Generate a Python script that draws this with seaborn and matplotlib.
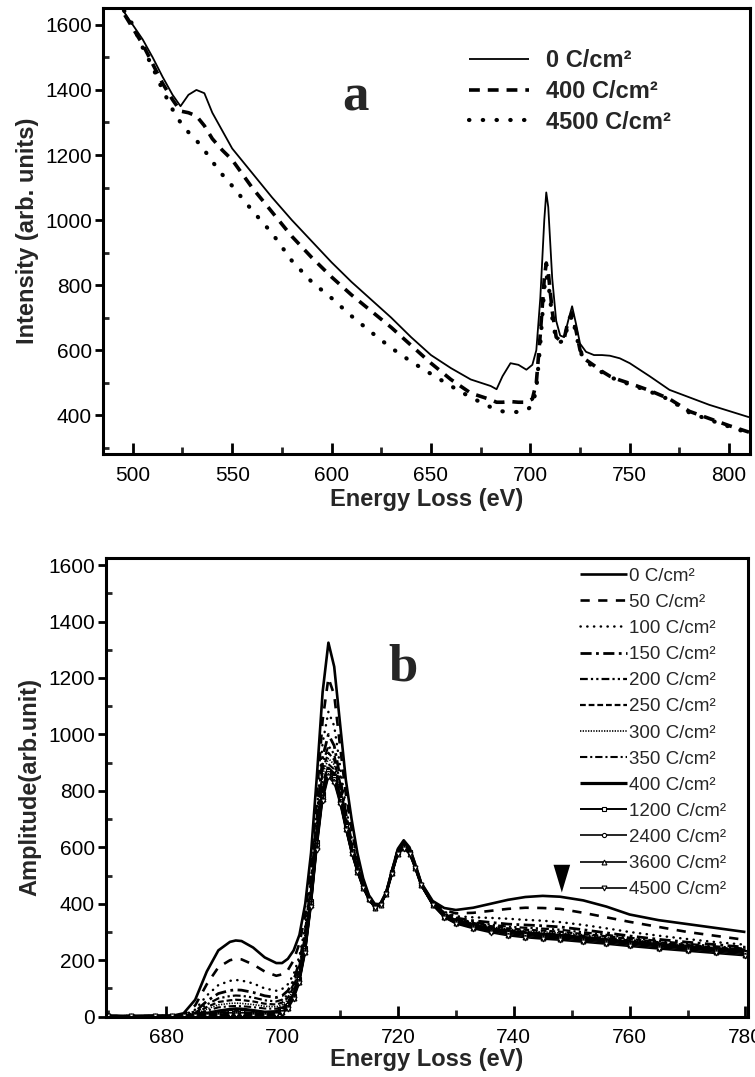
import matplotlib
matplotlib.use("Agg")
import matplotlib.pyplot as plt
from matplotlib.ticker import MultipleLocator
import seaborn as sns

# ---------------- panel (a): raw spectra ----------------
energy_a = [490, 495, 500, 505, 510, 515, 520, 524, 528, 532, 536, 540, 545, 550,
            560, 570, 580, 590, 600, 610, 620, 630, 640, 650, 660, 670, 680, 683,
            686, 690, 694, 698, 701, 703, 705, 707, 708, 709, 711, 713, 715, 717,
            719, 721, 723, 725, 728, 732, 736, 740, 745, 750, 760, 770, 780, 790,
            800, 810]
dose_0 = [1700, 1645, 1600, 1555, 1500, 1440, 1385, 1350, 1385, 1400, 1390, 1330,
          1275, 1220, 1145, 1070, 1000, 935, 870, 810, 755, 700, 640, 585, 545,
          510, 490, 480, 520, 560, 555, 540, 555, 600, 760, 1000, 1085, 1040, 820,
          690, 645, 640, 690, 735, 680, 620, 595, 585, 585, 583, 575, 560, 520,
          478, 455, 432, 413, 394]
dose_400 = [1690, 1640, 1590, 1540, 1480, 1420, 1370, 1335, 1330, 1320, 1290, 1250,
            1215, 1185, 1100, 1025, 950, 885, 825, 770, 720, 670, 615, 560, 510,
            468, 448, 440, 440, 442, 440, 440, 450, 500, 650, 820, 868, 840, 720,
            640, 630, 635, 690, 715, 660, 600, 570, 553, 535, 520, 508, 498, 476,
            450, 412, 390, 368, 348]
dose_4500 = [1700, 1650, 1600, 1530, 1470, 1400, 1340, 1300, 1270, 1245, 1215, 1180,
             1140, 1105, 1030, 960, 875, 810, 760, 705, 655, 607, 565, 527, 490,
             455, 425, 418, 412, 410, 410, 415, 430, 480, 620, 790, 830, 810, 700,
             630, 625, 630, 680, 705, 650, 595, 565, 548, 532, 518, 505, 495, 473,
             448, 408, 386, 365, 345]
labels_a = ["0 C/cm²", "400 C/cm²", "4500 C/cm²"]

# ---------------- panel (b): background-subtracted edges ----------------
energy_b = [670, 674, 678, 681, 683, 685, 687, 689, 691, 692, 693, 695, 697, 699,
            700, 701, 702, 703, 704, 705, 706, 707, 708, 709, 710, 711, 712, 713,
            714, 715, 716, 717, 718, 719, 720, 721, 722, 723, 724, 726, 728, 730,
            733, 736, 739, 742, 745, 748, 752, 756, 760, 765, 770, 775, 780]
amp_0 = [3, 2, 4, 3, 12, 60, 160, 235, 265, 270, 268, 245, 210, 190, 190, 205, 235,
         290, 400, 580, 850, 1150, 1325, 1240, 1040, 840, 700, 580, 490, 430, 400,
         398, 440, 520, 595, 625, 600, 540, 475, 410, 385, 378, 386, 400, 414, 424,
         428, 425, 412, 390, 362, 342, 328, 314, 300]
amp_50 = [2, 3, 2, 3, 8, 40, 115, 175, 200, 205, 203, 185, 160, 145, 150, 165, 200,
          260, 360, 530, 780, 1050, 1200, 1140, 960, 790, 665, 560, 480, 425, 396,
          398, 440, 518, 592, 620, 597, 538, 473, 407, 378, 366, 368, 375, 382, 386,
          385, 382, 368, 352, 336, 318, 300, 286, 272]
amp_100 = [2, 1, 3, 2, 5, 25, 75, 112, 127, 130, 128, 118, 100, 92, 98, 115, 150,
           215, 320, 490, 730, 970, 1080, 1030, 890, 745, 635, 545, 472, 420, 394,
           397, 440, 517, 590, 617, 594, 535, 471, 404, 372, 356, 352, 350, 347, 343,
           340, 335, 325, 313, 300, 287, 275, 264, 255]
amp_150 = [1, 2, 1, 2, 4, 18, 55, 82, 93, 95, 94, 86, 74, 68, 74, 92, 128, 195, 300,
           470, 700, 920, 1000, 960, 850, 720, 620, 535, 467, 416, 392, 397, 440, 516,
           588, 614, 592, 533, 469, 402, 368, 350, 340, 334, 328, 325, 322, 318, 308,
           297, 286, 274, 264, 255, 246]
amp_200 = [2, 1, 2, 1, 3, 14, 43, 65, 73, 75, 74, 68, 58, 54, 60, 78, 115, 182, 290,
           460, 685, 895, 960, 930, 830, 710, 612, 530, 464, 414, 391, 398, 440, 515,
           587, 612, 590, 532, 468, 401, 366, 347, 335, 326, 319, 315, 312, 308, 299,
           290, 280, 268, 258, 249, 241]
amp_250 = [1, 2, 1, 2, 3, 11, 34, 52, 58, 60, 59, 54, 46, 43, 50, 68, 105, 172, 280,
           450, 672, 875, 935, 910, 815, 700, 605, 526, 462, 413, 390, 398, 440, 514,
           586, 610, 589, 531, 467, 400, 364, 345, 332, 321, 313, 308, 305, 301, 293,
           285, 276, 264, 254, 245, 238]
amp_300 = [2, 1, 2, 1, 2, 9, 27, 42, 47, 48, 47, 43, 37, 35, 42, 60, 97, 163, 272,
           442, 660, 858, 915, 893, 803, 693, 600, 524, 461, 412, 389, 399, 440, 514,
           585, 609, 588, 530, 467, 400, 363, 343, 330, 318, 310, 304, 300, 297, 290,
           282, 273, 262, 252, 244, 236]
amp_350 = [1, 2, 1, 2, 2, 7, 21, 33, 37, 38, 37, 34, 29, 28, 35, 52, 89, 155, 262,
           432, 645, 828, 895, 876, 792, 687, 595, 522, 460, 416, 389, 400, 440, 514,
           585, 607, 587, 530, 468, 400, 362, 342, 328, 315, 307, 300, 296, 293, 286,
           278, 270, 260, 250, 242, 234]
amp_400 = [2, 1, 2, 2, 3, 6, 12, 20, 26, 28, 27, 22, 16, 18, 28, 45, 80, 140, 250,
           420, 630, 800, 880, 860, 780, 680, 590, 520, 460, 420, 390, 400, 440, 515,
           585, 605, 585, 530, 470, 400, 360, 340, 325, 312, 303, 297, 292, 288, 281,
           273, 265, 256, 247, 240, 233]
amp_1200 = [1, 2, 1, 2, 2, 4, 8, 13, 17, 18, 17, 14, 11, 13, 22, 40, 74, 133, 242,
            410, 618, 790, 870, 850, 772, 675, 587, 518, 458, 418, 388, 399, 438, 512,
            582, 602, 582, 528, 468, 398, 357, 337, 321, 308, 299, 292, 287, 283, 276,
            269, 261, 252, 243, 236, 228]
amp_2400 = [2, 1, 2, 1, 2, 3, 6, 9, 11, 12, 11, 10, 8, 10, 18, 36, 70, 128, 236, 402,
            608, 780, 862, 842, 765, 670, 584, 516, 457, 417, 387, 398, 437, 510, 580,
            600, 580, 527, 467, 397, 355, 334, 318, 305, 295, 288, 283, 279, 272, 265,
            257, 248, 240, 232, 224]
amp_3600 = [1, 2, 1, 2, 1, 2, 4, 6, 7, 8, 8, 7, 6, 8, 15, 32, 66, 124, 230, 395, 600,
            772, 855, 835, 760, 666, 581, 514, 456, 416, 386, 397, 436, 508, 578, 598,
            578, 526, 466, 396, 353, 331, 315, 302, 291, 284, 279, 275, 268, 261, 253,
            244, 236, 228, 220]
amp_4500 = [2, 1, 2, 1, 2, 2, 3, 4, 5, 5, 5, 4, 4, 6, 12, 28, 62, 120, 225, 388, 592,
            765, 848, 828, 755, 662, 578, 512, 455, 415, 385, 396, 435, 506, 576, 595,
            576, 525, 465, 395, 351, 329, 312, 298, 287, 280, 275, 271, 264, 257, 249,
            240, 232, 224, 216]
doses_b = ["0", "50", "100", "150", "200", "250", "300", "350", "400",
           "1200", "2400", "3600", "4500"]

# arrow marking the high-energy shoulder in (b)
arrow_energy = 748.3
arrow_top, arrow_tip = 548, 430

# ---------------- styling ----------------
sns.set_theme(style="ticks")
plt.rcParams["font.family"] = ["Liberation Sans", "DejaVu Sans"]
plt.rcParams["axes.linewidth"] = 2.2
plt.rcParams["lines.solid_capstyle"] = "butt"

fig = plt.figure(figsize=(7.55, 10.77), dpi=100)
ax_a = fig.add_axes([0.1364, 0.5785, 0.857, 0.4141])
ax_b = fig.add_axes([0.1404, 0.0560, 0.850, 0.4259])

TICK_FS = 15
LABEL_FS = 17


def style_axes(ax, xpad):
    for sp in ax.spines.values():
        sp.set_visible(True)
        sp.set_linewidth(2.2)
        sp.set_color("black")
    ax.tick_params(axis="x", which="major", direction="in", length=8, width=2,
                   labelsize=TICK_FS, pad=xpad, colors="black")
    ax.tick_params(axis="x", which="minor", direction="in", length=5, width=2)
    ax.tick_params(axis="y", which="major", direction="out", length=6, width=2,
                   labelsize=TICK_FS, pad=2, colors="black")
    ax.tick_params(axis="y", which="minor", direction="in", length=4, width=2)
    ax.tick_params(top=False, right=False, which="both")


# ---- panel (a)
styles_a = [
    dict(linestyle="-", linewidth=1.3),
    dict(linestyle=(0, (3.0, 2.2)), linewidth=2.6),
    dict(linestyle=(0, (0.1, 3.2)), linewidth=3.0, dash_capstyle="round"),
]
for ys, lab, st in zip([dose_0, dose_400, dose_4500], labels_a, styles_a):
    sns.lineplot(x=energy_a, y=ys, ax=ax_a, color="black", label=lab,
                 errorbar=None, **st)

ax_a.set_xlim(485, 810.5)
ax_a.set_ylim(281, 1652)
ax_a.xaxis.set_major_locator(MultipleLocator(50))
ax_a.xaxis.set_minor_locator(MultipleLocator(25))
ax_a.yaxis.set_major_locator(MultipleLocator(200))
ax_a.yaxis.set_minor_locator(MultipleLocator(100))
style_axes(ax_a, xpad=8.5)
ax_a.set_xlabel("Energy Loss (eV)", fontsize=LABEL_FS, fontweight="bold", labelpad=2)
ax_a.set_ylabel("Intensity (arb. units)", fontsize=LABEL_FS, fontweight="bold",
                labelpad=4)
ax_a.legend(loc="upper left", bbox_to_anchor=(0.565, 0.908), frameon=False,
            prop={"weight": "bold", "size": 17}, handlelength=2.55,
            handletextpad=0.75, labelspacing=0.33, borderpad=0, borderaxespad=0)
ax_a.text(0.39, 0.80, "a", transform=ax_a.transAxes, fontsize=38,
          fontweight="bold", family="Liberation Serif", ha="center", va="center")

# ---- panel (b)
styles_b = [
    dict(linestyle="-", linewidth=1.9),
    dict(linestyle=(0, (3.5, 3.2)), linewidth=1.9),
    dict(linestyle=(0, (0.1, 2.6)), linewidth=1.8, dash_capstyle="round"),
    dict(linestyle=(0, (4, 1.6, 1, 1.6)), linewidth=2.0),
    dict(linestyle=(0, (3.5, 1.4, 1, 1.4, 1, 1.4)), linewidth=1.6),
    dict(linestyle=(0, (2.6, 1.3)), linewidth=1.6),
    dict(linestyle=(0, (0.8, 0.8)), linewidth=1.2),
    dict(linestyle=(0, (3.5, 1.4, 1, 1.4)), linewidth=1.5),
    dict(linestyle="-", linewidth=2.3),
    dict(linestyle="-", linewidth=1.4, marker="s", markersize=3),
    dict(linestyle="-", linewidth=1.2, marker="o", markersize=3),
    dict(linestyle="-", linewidth=1.2, marker="^", markersize=3.5),
    dict(linestyle="-", linewidth=1.2, marker="v", markersize=3.5),
]
series_b = [amp_0, amp_50, amp_100, amp_150, amp_200, amp_250, amp_300, amp_350,
            amp_400, amp_1200, amp_2400, amp_3600, amp_4500]
for ys, dose, st in zip(series_b, doses_b, styles_b):
    extra = {}
    if "marker" in st:
        extra = dict(markerfacecolor="white", markeredgecolor="black",
                     markeredgewidth=0.8)
    sns.lineplot(x=energy_b, y=ys, ax=ax_b, color="black",
                 label=f"{dose} C/cm²", errorbar=None, **st, **extra)

ax_b.set_xlim(669.6, 780.4)
ax_b.set_ylim(0, 1625)
ax_b.xaxis.set_major_locator(MultipleLocator(20))
ax_b.xaxis.set_minor_locator(MultipleLocator(10))
ax_b.yaxis.set_major_locator(MultipleLocator(200))
ax_b.yaxis.set_minor_locator(MultipleLocator(100))
style_axes(ax_b, xpad=8)
ax_b.set_xlabel("Energy Loss (eV)", fontsize=LABEL_FS, fontweight="bold",
                labelpad=1)
ax_b.set_ylabel("Amplitude(arb.unit)", fontsize=LABEL_FS, fontweight="bold",
                labelpad=5)
ax_b.legend(loc="upper left", bbox_to_anchor=(0.738, 0.979), frameon=False,
            fontsize=13.5, handlelength=2.55, handletextpad=0.1,
            labelspacing=0.48, borderpad=0, borderaxespad=0)
ax_b.text(0.463, 0.762, "b", transform=ax_b.transAxes, fontsize=38,
          fontweight="bold", family="Liberation Serif", ha="center", va="center")
ax_b.annotate("", xy=(arrow_energy, arrow_tip), xytext=(arrow_energy, arrow_top),
              arrowprops=dict(arrowstyle="wedge,tail_width=1.0,shrink_factor=0.5",
                              color="black", lw=0))

fig.savefig("out.png", dpi=100)
